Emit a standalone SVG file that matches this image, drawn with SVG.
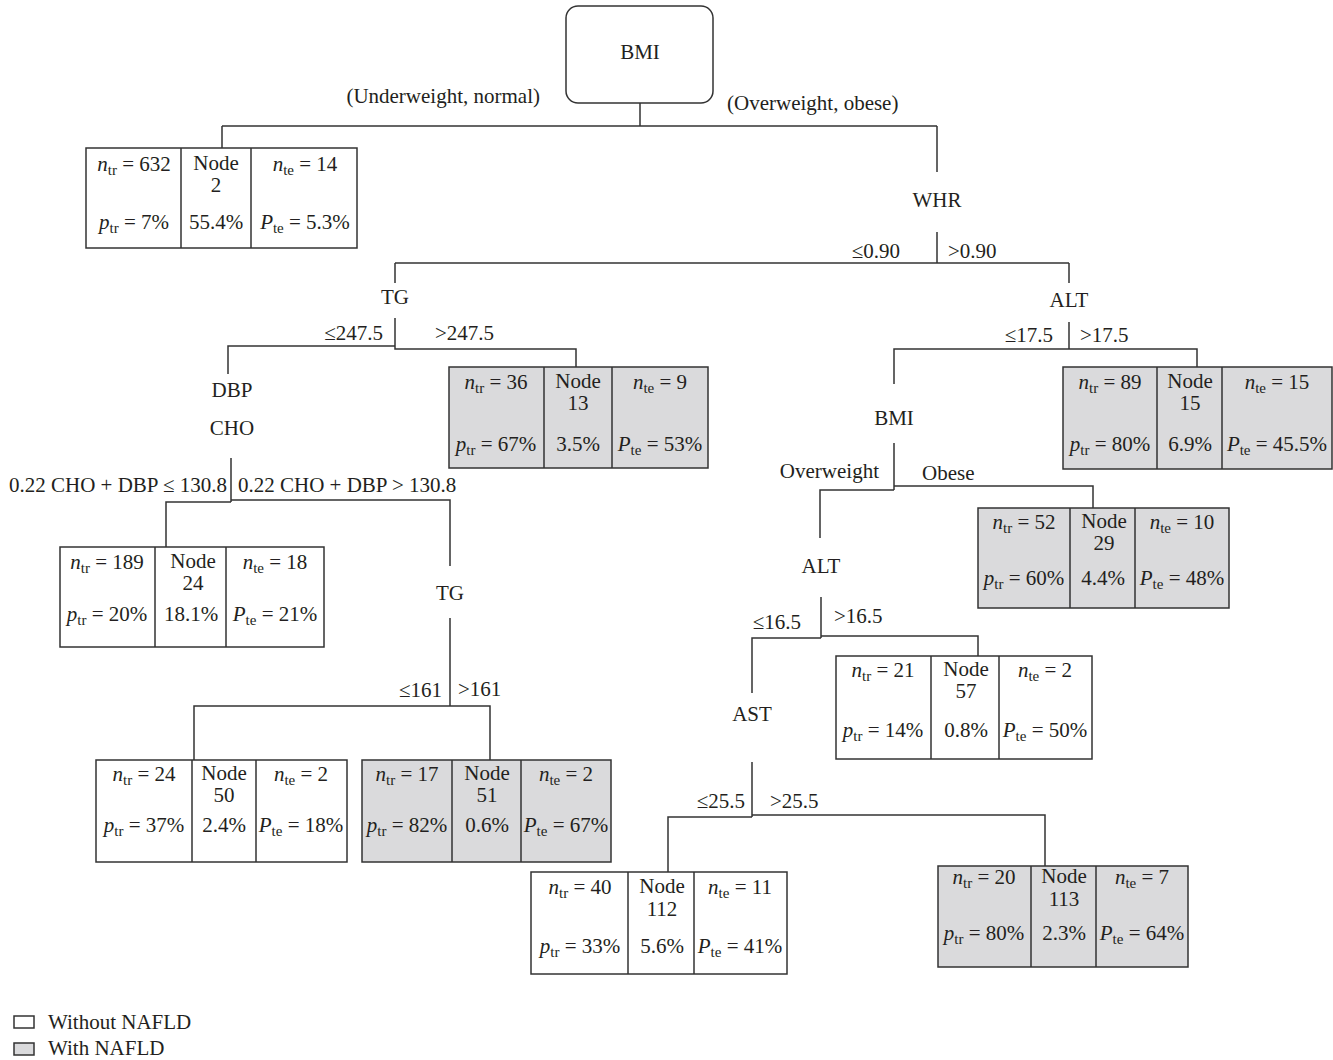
<svg xmlns="http://www.w3.org/2000/svg" width="1333" height="1060" viewBox="0 0 1333 1060">
<style>
text{font-family:"Liberation Serif","Times New Roman",serif;font-size:21px;fill:#231f20}
.m{text-anchor:middle}
.e{text-anchor:end}
.i{font-style:italic}
.s{font-size:15px}
.ln{stroke:#333;stroke-width:1.5;fill:none}
.bx{stroke:#333;stroke-width:1.5}
.w{fill:#fff}
.g{fill:#dadadc}
</style>
<rect width="1333" height="1060" fill="#fff"/>
<g id="connectors" class="ln">
<path d="M640,103V126M222,126H937M222,126V148M937,126V172"/>
<path d="M937,232V263M395,263H1069M395,263V283M1069,263V283"/>
<path d="M395,318V349H576V367M228,374V346H395"/>
<path d="M231,458V502M166,547V502H231M231,500H450V566"/>
<path d="M450,618V706M194,760V706H490V760"/>
<path d="M1069,322V349M894,384V349H1197V367"/>
<path d="M894,443V490M820,538V490H894M894,486H1093V508"/>
<path d="M821,597V638M752,693V638H821M821,636H978V656"/>
<path d="M752,762V817M668,872V817H752M752,815H1045V866"/>
</g>
<g id="edge-labels">
<text class="e" x="540" y="103">(Underweight, normal)</text>
<text x="727" y="110">(Overweight, obese)</text>
<text class="e" x="900" y="258">≤0.90</text>
<text x="948" y="258">&gt;0.90</text>
<text class="e" x="383" y="340">≤247.5</text>
<text x="435" y="340">&gt;247.5</text>
<text class="e" x="1053" y="342">≤17.5</text>
<text x="1080" y="342">&gt;17.5</text>
<text class="e" x="227" y="492">0.22 CHO + DBP ≤ 130.8</text>
<text x="238" y="492">0.22 CHO + DBP &gt; 130.8</text>
<text class="e" x="879" y="478">Overweight</text>
<text x="922" y="480">Obese</text>
<text class="e" x="801" y="629">≤16.5</text>
<text x="834" y="623">&gt;16.5</text>
<text class="e" x="442" y="697">≤161</text>
<text x="458" y="696">&gt;161</text>
<text class="e" x="745" y="808">≤25.5</text>
<text x="770" y="808">&gt;25.5</text>
</g>
<g id="root">
<rect x="566" y="6" width="147" height="97" rx="12" class="bx w"/>
<text class="m" x="640" y="59">BMI</text>
</g>
<g id="split-WHR"><text class="m" x="937" y="207">WHR</text></g>
<g id="split-TG"><text class="m" x="395" y="304">TG</text></g>
<g id="split-ALT"><text class="m" x="1069" y="307">ALT</text></g>
<g id="split-DBP-CHO"><text class="m" x="232" y="397">DBP</text><text class="m" x="232" y="435">CHO</text></g>
<g id="split-BMI2"><text class="m" x="894" y="425">BMI</text></g>
<g id="split-ALT2"><text class="m" x="821" y="573">ALT</text></g>
<g id="split-TG2"><text class="m" x="450" y="600">TG</text></g>
<g id="split-AST"><text class="m" x="752" y="721">AST</text></g>

<g id="node2">
<rect x="86" y="148" width="271" height="100" class="bx w"/>
<path class="ln" d="M181,148V248M251,148V248"/>
<text class="m" x="134" y="171"><tspan class="i">n</tspan><tspan class="s" dy="4">tr</tspan><tspan dy="-4"> = 632</tspan></text>
<text class="m" x="216" y="170">Node</text><text class="m" x="216" y="192">2</text>
<text class="m" x="305" y="171"><tspan class="i">n</tspan><tspan class="s" dy="4">te</tspan><tspan dy="-4"> = 14</tspan></text>
<text class="m" x="134" y="229"><tspan class="i">p</tspan><tspan class="s" dy="4">tr</tspan><tspan dy="-4"> = 7%</tspan></text>
<text class="m" x="216" y="229">55.4%</text>
<text class="m" x="305" y="229"><tspan class="i">P</tspan><tspan class="s" dy="4">te</tspan><tspan dy="-4"> = 5.3%</tspan></text>
</g>

<g id="node13">
<rect x="449" y="367" width="259" height="101" class="bx g"/>
<path class="ln" d="M544,367V468M612,367V468"/>
<text class="m" x="496" y="389"><tspan class="i">n</tspan><tspan class="s" dy="4">tr</tspan><tspan dy="-4"> = 36</tspan></text>
<text class="m" x="578" y="388">Node</text><text class="m" x="578" y="410">13</text>
<text class="m" x="660" y="389"><tspan class="i">n</tspan><tspan class="s" dy="4">te</tspan><tspan dy="-4"> = 9</tspan></text>
<text class="m" x="496" y="451"><tspan class="i">p</tspan><tspan class="s" dy="4">tr</tspan><tspan dy="-4"> = 67%</tspan></text>
<text class="m" x="578" y="451">3.5%</text>
<text class="m" x="660" y="451"><tspan class="i">P</tspan><tspan class="s" dy="4">te</tspan><tspan dy="-4"> = 53%</tspan></text>
</g>

<g id="node15">
<rect x="1063" y="367" width="269" height="102" class="bx g"/>
<path class="ln" d="M1157,367V469M1222,367V469"/>
<text class="m" x="1110" y="389"><tspan class="i">n</tspan><tspan class="s" dy="4">tr</tspan><tspan dy="-4"> = 89</tspan></text>
<text class="m" x="1190" y="388">Node</text><text class="m" x="1190" y="410">15</text>
<text class="m" x="1277" y="389"><tspan class="i">n</tspan><tspan class="s" dy="4">te</tspan><tspan dy="-4"> = 15</tspan></text>
<text class="m" x="1110" y="451"><tspan class="i">p</tspan><tspan class="s" dy="4">tr</tspan><tspan dy="-4"> = 80%</tspan></text>
<text class="m" x="1190" y="451">6.9%</text>
<text class="m" x="1277" y="451"><tspan class="i">P</tspan><tspan class="s" dy="4">te</tspan><tspan dy="-4"> = 45.5%</tspan></text>
</g>

<g id="node24">
<rect x="60" y="547" width="264" height="100" class="bx w"/>
<path class="ln" d="M155,547V647M226,547V647"/>
<text class="m" x="107" y="569"><tspan class="i">n</tspan><tspan class="s" dy="4">tr</tspan><tspan dy="-4"> = 189</tspan></text>
<text class="m" x="193" y="568">Node</text><text class="m" x="193" y="590">24</text>
<text class="m" x="275" y="569"><tspan class="i">n</tspan><tspan class="s" dy="4">te</tspan><tspan dy="-4"> = 18</tspan></text>
<text class="m" x="107" y="621"><tspan class="i">p</tspan><tspan class="s" dy="4">tr</tspan><tspan dy="-4"> = 20%</tspan></text>
<text class="m" x="191" y="621">18.1%</text>
<text class="m" x="275" y="621"><tspan class="i">P</tspan><tspan class="s" dy="4">te</tspan><tspan dy="-4"> = 21%</tspan></text>
</g>

<g id="node29">
<rect x="978" y="508" width="251" height="100" class="bx g"/>
<path class="ln" d="M1070,508V608M1135,508V608"/>
<text class="m" x="1024" y="529"><tspan class="i">n</tspan><tspan class="s" dy="4">tr</tspan><tspan dy="-4"> = 52</tspan></text>
<text class="m" x="1104" y="528">Node</text><text class="m" x="1104" y="550">29</text>
<text class="m" x="1182" y="529"><tspan class="i">n</tspan><tspan class="s" dy="4">te</tspan><tspan dy="-4"> = 10</tspan></text>
<text class="m" x="1024" y="585"><tspan class="i">p</tspan><tspan class="s" dy="4">tr</tspan><tspan dy="-4"> = 60%</tspan></text>
<text class="m" x="1103" y="585">4.4%</text>
<text class="m" x="1182" y="585"><tspan class="i">P</tspan><tspan class="s" dy="4">te</tspan><tspan dy="-4"> = 48%</tspan></text>
</g>

<g id="node50">
<rect x="96" y="760" width="251" height="102" class="bx w"/>
<path class="ln" d="M192,760V862M256,760V862"/>
<text class="m" x="144" y="781"><tspan class="i">n</tspan><tspan class="s" dy="4">tr</tspan><tspan dy="-4"> = 24</tspan></text>
<text class="m" x="224" y="780">Node</text><text class="m" x="224" y="802">50</text>
<text class="m" x="301" y="781"><tspan class="i">n</tspan><tspan class="s" dy="4">te</tspan><tspan dy="-4"> = 2</tspan></text>
<text class="m" x="144" y="832"><tspan class="i">p</tspan><tspan class="s" dy="4">tr</tspan><tspan dy="-4"> = 37%</tspan></text>
<text class="m" x="224" y="832">2.4%</text>
<text class="m" x="301" y="832"><tspan class="i">P</tspan><tspan class="s" dy="4">te</tspan><tspan dy="-4"> = 18%</tspan></text>
</g>

<g id="node51">
<rect x="362" y="760" width="249" height="102" class="bx g"/>
<path class="ln" d="M452,760V862M521,760V862"/>
<text class="m" x="407" y="781"><tspan class="i">n</tspan><tspan class="s" dy="4">tr</tspan><tspan dy="-4"> = 17</tspan></text>
<text class="m" x="487" y="780">Node</text><text class="m" x="487" y="802">51</text>
<text class="m" x="566" y="781"><tspan class="i">n</tspan><tspan class="s" dy="4">te</tspan><tspan dy="-4"> = 2</tspan></text>
<text class="m" x="407" y="832"><tspan class="i">p</tspan><tspan class="s" dy="4">tr</tspan><tspan dy="-4"> = 82%</tspan></text>
<text class="m" x="487" y="832">0.6%</text>
<text class="m" x="566" y="832"><tspan class="i">P</tspan><tspan class="s" dy="4">te</tspan><tspan dy="-4"> = 67%</tspan></text>
</g>

<g id="node57">
<rect x="836" y="656" width="256" height="103" class="bx w"/>
<path class="ln" d="M931,656V759M999,656V759"/>
<text class="m" x="883" y="677"><tspan class="i">n</tspan><tspan class="s" dy="4">tr</tspan><tspan dy="-4"> = 21</tspan></text>
<text class="m" x="966" y="676">Node</text><text class="m" x="966" y="698">57</text>
<text class="m" x="1045" y="677"><tspan class="i">n</tspan><tspan class="s" dy="4">te</tspan><tspan dy="-4"> = 2</tspan></text>
<text class="m" x="883" y="737"><tspan class="i">p</tspan><tspan class="s" dy="4">tr</tspan><tspan dy="-4"> = 14%</tspan></text>
<text class="m" x="966" y="737">0.8%</text>
<text class="m" x="1045" y="737"><tspan class="i">P</tspan><tspan class="s" dy="4">te</tspan><tspan dy="-4"> = 50%</tspan></text>
</g>

<g id="node112">
<rect x="531" y="872" width="256" height="102" class="bx w"/>
<path class="ln" d="M628,872V974M694,872V974"/>
<text class="m" x="580" y="894"><tspan class="i">n</tspan><tspan class="s" dy="4">tr</tspan><tspan dy="-4"> = 40</tspan></text>
<text class="m" x="662" y="893">Node</text><text class="m" x="662" y="916">112</text>
<text class="m" x="740" y="894"><tspan class="i">n</tspan><tspan class="s" dy="4">te</tspan><tspan dy="-4"> = 11</tspan></text>
<text class="m" x="580" y="953"><tspan class="i">p</tspan><tspan class="s" dy="4">tr</tspan><tspan dy="-4"> = 33%</tspan></text>
<text class="m" x="662" y="953">5.6%</text>
<text class="m" x="740" y="953"><tspan class="i">P</tspan><tspan class="s" dy="4">te</tspan><tspan dy="-4"> = 41%</tspan></text>
</g>

<g id="node113">
<rect x="938" y="866" width="250" height="101" class="bx g"/>
<path class="ln" d="M1031,866V967M1096,866V967"/>
<text class="m" x="984" y="884"><tspan class="i">n</tspan><tspan class="s" dy="4">tr</tspan><tspan dy="-4"> = 20</tspan></text>
<text class="m" x="1064" y="883">Node</text><text class="m" x="1064" y="906">113</text>
<text class="m" x="1142" y="884"><tspan class="i">n</tspan><tspan class="s" dy="4">te</tspan><tspan dy="-4"> = 7</tspan></text>
<text class="m" x="984" y="940"><tspan class="i">p</tspan><tspan class="s" dy="4">tr</tspan><tspan dy="-4"> = 80%</tspan></text>
<text class="m" x="1064" y="940">2.3%</text>
<text class="m" x="1142" y="940"><tspan class="i">P</tspan><tspan class="s" dy="4">te</tspan><tspan dy="-4"> = 64%</tspan></text>
</g>

<g id="legend">
<rect x="14" y="1016" width="20" height="12" class="bx w"/>
<text x="48" y="1029">Without NAFLD</text>
<rect x="14" y="1043" width="20" height="12" class="bx g"/>
<text x="48" y="1055">With NAFLD</text>
</g>
</svg>
